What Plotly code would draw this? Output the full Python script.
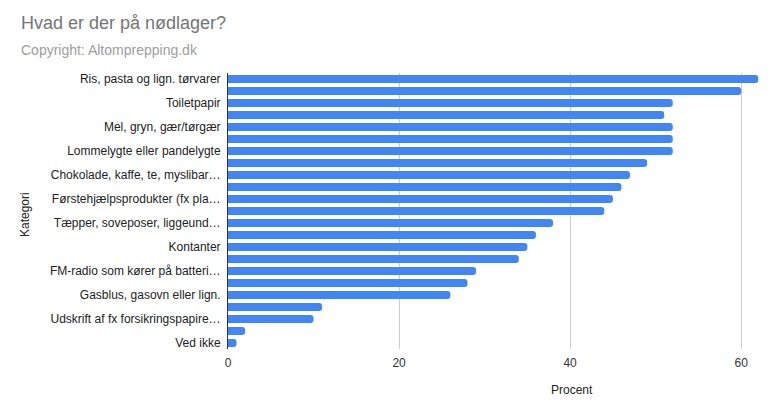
import plotly.graph_objects as go

categories = [
    "Ris, pasta og lign. tørvarer",
    "Vand på dunke eller flasker",
    "Toiletpapir",
    "Konserves",
    "Mel, gryn, gær/tørgær",
    "Stearinlys",
    "Lommelygte eller pandelygte",
    "Batterier",
    "Chokolade, kaffe, te, myslibar…",
    "Tændstikker eller lighter",
    "Førstehjælpsprodukter (fx pla…",
    "Medicin",
    "Tæpper, soveposer, liggeund…",
    "Hygiejneartikler",
    "Kontanter",
    "Powerbank",
    "FM-radio som kører på batteri…",
    "Frysetørret mad",
    "Gasblus, gasovn eller lign.",
    "Vandrensning",
    "Udskrift af fx forsikringspapire…",
    "Andet",
    "Ved ikke",
]
values = [62, 60, 52, 51, 52, 52, 52, 49, 47, 46, 45, 44, 38, 36, 35, 34, 29, 28, 26, 11, 10, 2, 1]
shown_labels = categories[::2]
x_ticks = [0, 20, 40, 60]

fig = go.Figure(go.Bar(
    x=values, y=categories, orientation="h",
    marker=dict(color="#4285F4", line=dict(width=0), cornerradius=3),
    hoverinfo="x+y",
))

fig.update_layout(
    width=783, height=414,
    margin=dict(l=228, r=23, t=73, b=65, autoexpand=False),
    paper_bgcolor="white", plot_bgcolor="white",
    font=dict(family="Liberation Sans, Arial, sans-serif", size=12, color="#222222"),
    bargap=0.33,
    showlegend=False,
    xaxis=dict(
        range=[0, 62.2], tickvals=x_ticks, showgrid=True, gridcolor="#cccccc", gridwidth=1,
        zeroline=False, showline=False, ticks="", ticklabelstandoff=5,
        tickfont=dict(size=12, color="#333333"),
        fixedrange=True, automargin=False,
    ),
    yaxis=dict(
        type="category", autorange="reversed", tickvals=shown_labels, ticktext=shown_labels,
        showgrid=False, zeroline=False, showline=True, linecolor="#333333", linewidth=1,
        ticks="", ticklabelstandoff=4, tickfont=dict(size=12, color="#222222"),
        automargin=False,
    ),
    annotations=[
        dict(text="Hvad er der på nødlager?", xref="paper", yref="paper",
             x=-(228 - 19) / 532, y=1 + (73 - 23) / 276, xanchor="left", yanchor="middle",
             showarrow=False, font=dict(size=18, color="#757575")),
        dict(text="Copyright: Altomprepping.dk", xref="paper", yref="paper",
             x=-(228 - 19) / 532, y=1 + (73 - 50) / 276, xanchor="left", yanchor="middle",
             showarrow=False, font=dict(size=14, color="#9e9e9e")),
        dict(text="Procent", xref="paper", yref="paper",
             x=(572 - 228) / 532, y=-(390 - 349) / 276, xanchor="center", yanchor="middle",
             showarrow=False, font=dict(size=12, color="#222222")),
        dict(text="Kategori", xref="paper", yref="paper", textangle=-90,
             x=-(228 - 25) / 532, y=1 - (215 - 73) / 276, xanchor="center", yanchor="middle",
             showarrow=False, font=dict(size=12, color="#222222")),
    ],
)

fig.write_html("out.html", config={"displayModeBar": False},
               post_script="document.body.style.margin='0';")
